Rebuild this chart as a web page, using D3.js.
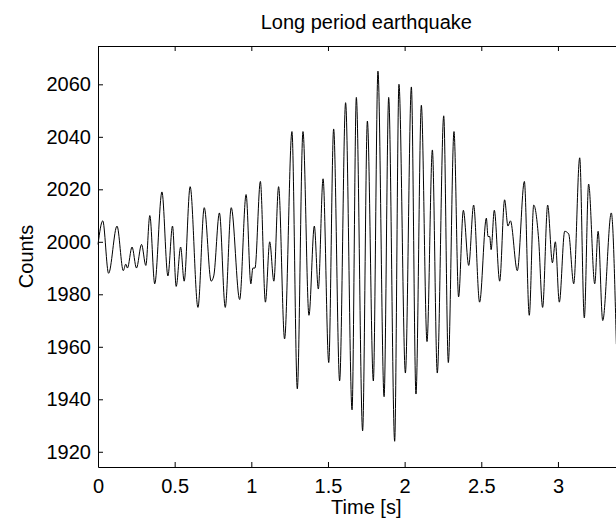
<!DOCTYPE html>
<html>
<head>
<meta charset="utf-8">
<script src="https://cdn.jsdelivr.net/npm/d3@7"></script>
<style>
body { margin: 0; background: #fff; }
text { font-family: "Liberation Sans", Arial, sans-serif; fill: #000; }
</style>
</head>
<body>
<div id="chart"></div>
<script>
// extrema of the trace
var timeValues = [0, 0.031, 0.069, 0.124, 0.165, 0.181, 0.192, 0.222, 0.251, 0.284, 0.312, 0.338, 0.370, 0.417, 0.456, 0.486,
    0.510, 0.539, 0.562, 0.601, 0.652, 0.693, 0.738, 0.755, 0.792, 0.830, 0.869, 0.924, 0.966, 0.997, 1.010, 1.024,
    1.059, 1.092, 1.120, 1.147, 1.178, 1.217, 1.265, 1.300, 1.337, 1.376, 1.411, 1.437, 1.468, 1.505, 1.537, 1.576,
    1.615, 1.657, 1.685, 1.726, 1.757, 1.796, 1.826, 1.866, 1.896, 1.935, 1.963, 2.005, 2.044, 2.074, 2.109, 2.146,
    2.181, 2.213, 2.255, 2.285, 2.322, 2.352, 2.383, 2.418, 2.450, 2.489, 2.533, 2.544, 2.555, 2.564, 2.585, 2.620,
    2.652, 2.674, 2.690, 2.735, 2.781, 2.813, 2.842, 2.874, 2.900, 2.933, 2.964, 2.983, 3.009, 3.044, 3.070, 3.103,
    3.142, 3.172, 3.200, 3.240, 3.262, 3.292, 3.348, 3.381];
var countValues = [1999, 2008, 1988, 2006, 1989, 1991.5, 1990, 1998, 1990, 1999, 1991, 2010, 1984, 2019, 1987, 2006,
    1983, 1998, 1985, 2021, 1975, 2013, 1985, 1987, 2011, 1975, 2013, 1978, 2018, 1984, 1990, 1990,
    2023, 1977, 2000, 1985, 2021, 1963, 2042, 1944, 2042, 1972, 2006, 1982, 2024, 1954, 2043, 1947,
    2053, 1936, 2055, 1928, 2046, 1947, 2065, 1941, 2055, 1924, 2060, 1950, 2059, 1942, 2052, 1962,
    2035, 1950, 2048, 1954, 2042, 1979, 2012, 1991, 2014, 1977, 2009, 2002, 2002, 1997, 2012, 1985,
    2016, 2006, 2008, 1989, 2023, 1972, 2014, 2001, 1975, 2014, 1992, 2000, 1977, 2004, 2003, 1984,
    2032, 1971, 2022, 1984, 2004, 1970, 2011, 1961];

var xTicks = [0, 0.5, 1, 1.5, 2, 2.5, 3];
var yTicks = [1920, 1940, 1960, 1980, 2000, 2020, 2040, 2060];

var width = 616;
var height = 520;
var margin = {top: 46, left: 98, bottom: 53};
var chartWidth = 536.6;   // box runs past the right edge of the picture
var chartHeight = height - margin.top - margin.bottom;

var data = timeValues.map((t, i) => ({t: t, v: countValues[i]}));

var root = d3.select('#chart').append('svg')
    .attr('width', width)
    .attr('height', height);

root.append('rect')
    .attr('width', width)
    .attr('height', height)
    .attr('fill', '#fff');

var svg = root.append('g')
    .attr('transform', `translate(${margin.left}, ${margin.top})`);

var xScale = d3.scaleLinear()
    .domain([0, 3.5])
    .range([0, chartWidth]);

var yScale = d3.scaleLinear()
    .domain([1914.2, 2074.6])
    .range([chartHeight, 0]);

function styleAxis(g) {
    g.attr('font-size', 20)
        .attr('font-family', '"Liberation Sans", Arial, sans-serif')
        .attr('color', '#000');
    g.selectAll('path, line').attr('stroke-width', 1);
}

svg.append('g')
    .attr('transform', `translate(0, ${chartHeight})`)
    .call(d3.axisBottom(xScale).tickValues(xTicks).tickFormat(d => String(d))
        .tickSizeInner(-5).tickSizeOuter(0).tickPadding(12))
    .call(styleAxis);

svg.append('g')
    .call(d3.axisTop(xScale).tickValues(xTicks).tickSizeInner(-5).tickSizeOuter(0).tickFormat(''))
    .call(styleAxis);

svg.append('g')
    .call(d3.axisLeft(yScale).tickValues(yTicks).tickFormat(d => String(d))
        .tickSizeInner(-5).tickSizeOuter(0).tickPadding(7))
    .call(styleAxis);

svg.append('g')
    .attr('transform', `translate(${chartWidth}, 0)`)
    .call(d3.axisRight(yScale).tickValues(yTicks).tickSizeInner(-5).tickSizeOuter(0).tickFormat(''))
    .call(styleAxis);

var line = d3.line()
    .x(d => xScale(d.t))
    .y(d => yScale(d.v))
    .curve(d3.curveMonotoneX);

svg.append('path')
    .datum(data)
    .attr('fill', 'none')
    .attr('stroke', '#000')
    .attr('stroke-width', 1)
    .attr('d', line);

root.append('text')
    .attr('x', margin.left + chartWidth / 2)
    .attr('y', 29)
    .attr('text-anchor', 'middle')
    .style('font-size', '20px')
    .text('Long period earthquake');

root.append('text')
    .attr('x', margin.left + chartWidth / 2)
    .attr('y', 514)
    .attr('text-anchor', 'middle')
    .style('font-size', '20px')
    .text('Time [s]');

root.append('text')
    .attr('transform', `translate(33, ${margin.top + chartHeight / 2}) rotate(-90)`)
    .attr('text-anchor', 'middle')
    .style('font-size', '20px')
    .text('Counts');
</script>
</body>
</html>
